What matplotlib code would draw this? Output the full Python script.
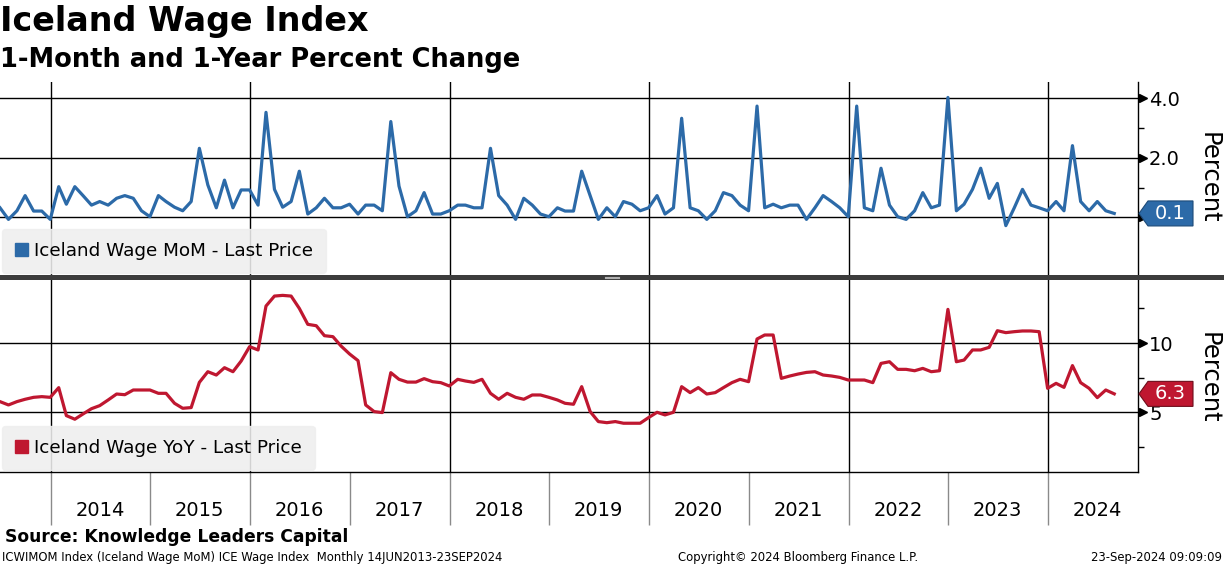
import numpy as np
import pandas as pd
import matplotlib
matplotlib.use('Agg')
import matplotlib.pyplot as plt
import matplotlib.dates as mdates
from matplotlib.patches import Polygon, Patch, Rectangle
from matplotlib.lines import Line2D
from matplotlib.ticker import FixedLocator, NullFormatter

plt.rcParams['font.family'] = ['DejaVu Sans']

# monthly observations, plotted at month end (Jun 2013 .. Aug 2024)
dates = pd.date_range('2013-06-30', '2024-08-31', freq='ME')

mom = [0.32, -0.07, 0.22, 0.73, 0.21, 0.21,
       -0.07, 1.03, 0.44, 1.03, 0.73, 0.41, 0.53, 0.41, 0.64, 0.73, 0.64, 0.22,
       0.02, 0.73, 0.53, 0.34, 0.22, 0.53, 2.32, 1.09, 0.32, 1.25, 0.32, 0.92,
       0.92, 0.41, 3.53, 0.94, 0.34, 0.53, 1.55, 0.11, 0.32, 0.64, 0.32, 0.32,
       0.44, 0.11, 0.41, 0.41, 0.22, 3.22, 1.05, 0.02, 0.22, 0.83, 0.11, 0.11,
       0.22, 0.41, 0.41, 0.32, 0.32, 2.32, 0.73, 0.41, -0.07, 0.64, 0.41, 0.11,
       0.02, 0.32, 0.21, 0.21, 1.55, 0.73, -0.07, 0.32, 0.02, 0.53, 0.44, 0.22,
       0.32, 0.73, 0.11, 0.32, 3.33, 0.32, 0.22, -0.07, 0.22, 0.83, 0.73, 0.41,
       0.22, 3.74, 0.32, 0.44, 0.32, 0.41, 0.41, -0.07, 0.32, 0.73, 0.53, 0.32,
       0.02, 3.74, 0.32, 0.22, 1.65, 0.41, 0.02, -0.07, 0.22, 0.83, 0.32, 0.41,
       4.03, 0.22, 0.44, 0.94, 1.65, 0.64, 1.14, -0.28, 0.32, 0.94, 0.41, 0.32,
       0.22, 0.53, 0.22, 2.41, 0.53, 0.22, 0.53, 0.22, 0.13]

yoy = [5.77, 5.53, 5.77, 5.94, 6.08, 6.13,
       6.08, 6.78, 4.76, 4.50, 4.88, 5.26, 5.48, 5.89, 6.32, 6.27, 6.61, 6.61,
       6.61, 6.37, 6.37, 5.65, 5.29, 5.34, 7.16, 7.93, 7.69, 8.22, 7.93, 8.70,
       9.74, 9.50, 12.67, 13.39, 13.44, 13.39, 12.50, 11.35, 11.25, 10.53, 10.46, 9.78,
       9.21, 8.73, 5.53, 5.05, 4.98, 7.86, 7.38, 7.18, 7.18, 7.43, 7.21, 7.14,
       6.90, 7.38, 7.26, 7.16, 7.38, 6.37, 5.94, 6.37, 6.08, 5.94, 6.25, 6.25,
       6.08, 5.89, 5.65, 5.58, 6.85, 5.05, 4.33, 4.25, 4.33, 4.21, 4.21, 4.21,
       4.62, 5.00, 4.81, 5.00, 6.85, 6.42, 6.78, 6.32, 6.42, 6.78, 7.14, 7.38,
       7.21, 10.29, 10.58, 10.58, 7.45, 7.62, 7.76, 7.88, 7.93, 7.69, 7.62, 7.52,
       7.33, 7.33, 7.33, 7.14, 8.53, 8.65, 8.10, 8.10, 8.00, 8.17, 7.93, 8.00,
       12.43, 8.65, 8.77, 9.50, 9.50, 9.69, 10.89, 10.75, 10.82, 10.87, 10.87, 10.82,
       6.73, 7.09, 6.80, 8.37, 7.14, 6.73, 6.06, 6.61, 6.33]

years = list(range(2014, 2025))
grid_years = list(range(2014, 2025, 2))

blue = '#2c6aa8'
red = '#bf1730'

W, H = 1224, 566
fig = plt.figure(figsize=(W / 100, H / 100), dpi=100)

def fx(px):
    return px / W

def fy(py):
    return 1 - py / H

ax1 = fig.add_axes([0, fy(275), fx(1138), (275 - 82) / H])
ax2 = fig.add_axes([0, fy(472), fx(1138), (472 - 280) / H])

xmin = pd.Timestamp('2013-06-30')
xmax = pd.Timestamp('2024-11-26')

panels = [
    (ax1, mom, blue, (-1.94, 4.55), [0, 2, 4], ['', '2.0', '4.0'], [1, 3],
     'Iceland Wage MoM - Last Price', 178),
    (ax2, yoy, red, (0.69, 14.55), [5, 10], ['5', '10'], [2.5, 7.5, 12.5],
     'Iceland Wage YoY - Last Price', 378),
]

for ax, vals, col, ylim, maj, majlab, mnr, lab, ylab_y in panels:
    ax.plot(dates, vals, color=col, lw=2.3, zorder=3, solid_joinstyle='round')
    ax.set_xlim(xmin, xmax)
    ax.set_ylim(*ylim)
    for s in ['top', 'left']:
        ax.spines[s].set_visible(False)
    ax.spines['right'].set_color('black')
    ax.spines['right'].set_linewidth(1.0)
    ax.yaxis.tick_right()
    ax.yaxis.set_major_locator(FixedLocator(maj))
    ax.set_yticklabels(majlab)
    ax.yaxis.set_minor_locator(FixedLocator(mnr))
    ax.tick_params(axis='y', which='major', length=0, pad=8, labelsize=14)
    ax.tick_params(axis='y', which='minor', length=4, width=1, direction='out')
    ax.yaxis.grid(True, which='major', color='black', lw=1.0)
    for yr in grid_years:
        ax.axvline(pd.Timestamp(f'{yr}-01-01'), color='black', lw=1.0, zorder=1)
    # little tick arrows on the right axis
    ax.plot([1.004] * len(maj), maj, marker='>', ls='none', color='black', ms=5.5,
            transform=ax.get_yaxis_transform(), clip_on=False, zorder=5)
    fig.text(fx(1209), fy(ylab_y), 'Percent', rotation=270, fontsize=17.5,
             ha='center', va='center')
    leg = ax.legend(handles=[Patch(color=col, label=lab)], loc='lower left',
                    bbox_to_anchor=(0.0015, 0.01), fontsize=13.2, frameon=True,
                    fancybox=True, framealpha=0.88, facecolor='#efefef',
                    edgecolor='#efefef', handlelength=0.72, handleheight=0.72,
                    handletextpad=0.3, borderpad=0.72, borderaxespad=0)
    leg.set_zorder(6)

ax1.tick_params(axis='x', which='both', length=0, labelbottom=False)
ax1.spines['bottom'].set_visible(False)

ax2.spines['bottom'].set_color('black')
ax2.spines['bottom'].set_linewidth(1.0)
ax2.xaxis.set_major_locator(FixedLocator([mdates.date2num(pd.Timestamp(f'{y}-01-01')) for y in years]))
ax2.xaxis.set_major_formatter(NullFormatter())
ax2.xaxis.set_minor_locator(FixedLocator([mdates.date2num(pd.Timestamp(f'{y}-07-01')) for y in years]))
ax2.xaxis.set_minor_formatter(mdates.DateFormatter('%Y'))
ax2.tick_params(axis='x', which='major', length=38, width=1, color='#8a8a8a', direction='out')
ax2.tick_params(axis='x', which='minor', length=0, pad=21, labelsize=14)

# last value tags
fig.canvas.draw()
for ax, vals, col, edge in [(ax1, mom, blue, '#1d4a78'), (ax2, yoy, red, '#6e0d1b')]:
    xr = ax.transAxes.transform((1, 0))[0]
    yv = ax.transData.transform((mdates.date2num(dates[-1]), vals[-1]))[1]
    pts = [(xr + 1, yv), (xr + 10, yv + 12.5), (xr + 55, yv + 12.5),
           (xr + 55, yv - 12.5), (xr + 10, yv - 12.5)]
    pts = [(x / W, y / H) for x, y in pts]
    fig.add_artist(Polygon(pts, closed=True, transform=fig.transFigure,
                           fc=col, ec=edge, lw=0.8, zorder=10))
    fig.text((xr + 32) / W, yv / H, f'{vals[-1]:.1f}', color='white', fontsize=14,
             ha='center', va='center', zorder=11)

# panel divider
fig.add_artist(Rectangle((0, fy(280)), 1, 5 / H, transform=fig.transFigure,
                         fc='#3c3c3c', ec='none', zorder=9))
for py in (276.8, 278.4):
    fig.add_artist(Line2D([fx(605), fx(619)], [fy(py), fy(py)], color='#b0b0b0',
                          lw=0.8, transform=fig.transFigure, zorder=10))

fig.text(0.0, fy(5), 'Iceland Wage Index', fontsize=24, fontweight='bold',
         ha='left', va='top')
fig.text(0.0, fy(47), '1-Month and 1-Year Percent Change', fontsize=18.5,
         fontweight='bold', ha='left', va='top')
fig.text(fx(5), fy(537), 'Source: Knowledge Leaders Capital', fontsize=12.3,
         fontweight='bold', ha='left', va='center')
fig.text(fx(2), fy(557), 'ICWIMOM Index (Iceland Wage MoM) ICE Wage Index  Monthly 14JUN2013-23SEP2024',
         fontsize=8.4, ha='left', va='center')
fig.text(fx(798), fy(557), 'Copyright\u00a9 2024 Bloomberg Finance L.P.', fontsize=8.4,
         ha='center', va='center')
fig.text(fx(1222), fy(557), '23-Sep-2024 09:09:09', fontsize=8.4, ha='right', va='center')

fig.savefig('out.png', dpi=100)
